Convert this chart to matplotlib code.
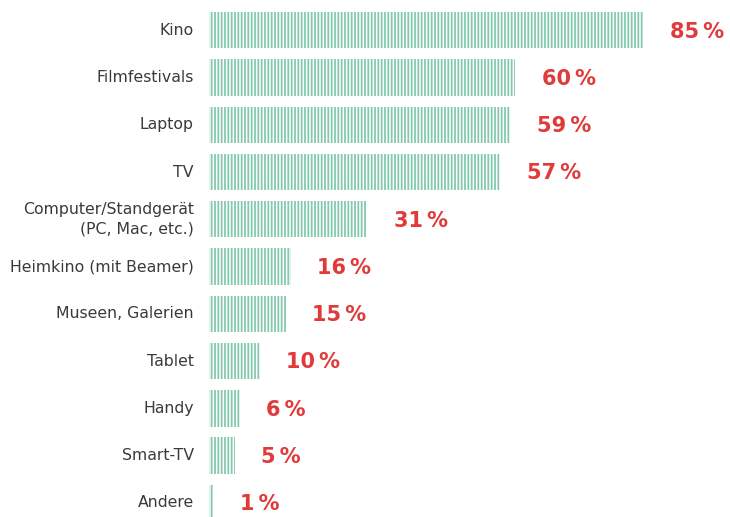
import numpy as np
import matplotlib
matplotlib.use("Agg")
import matplotlib.pyplot as plt

categories = ["Kino", "Filmfestivals", "Laptop", "TV", "Computer/Standgerät\n(PC, Mac, etc.)",
              "Heimkino (mit Beamer)", "Museen, Galerien", "Tablet", "Handy", "Smart-TV", "Andere"]
values = [85, 60, 59, 57, 31, 16, 15, 10, 6, 5, 1]

green = "#84c9ac"
red = "#e03a3a"

plt.rcParams["hatch.linewidth"] = 1.3
plt.rcParams["hatch.color"] = green

fig = plt.figure(figsize=(7.3, 5.17), dpi=100)
ax = fig.add_axes([209 / 730, 0, 1 - 209 / 730, 1])

y = np.arange(len(categories))
ax.barh(y, values, height=0.77, color="white", edgecolor=green, linewidth=0, hatch="|||||")

ax.set_xlim(0, 102)
ax.set_ylim(10.3, -0.64)

for i, (cat, v) in enumerate(zip(categories, values)):
    ax.annotate(cat, (0, i), xytext=(-11, 0), textcoords="offset points",
                ha="right", va="center", fontsize=11.3, color="#3a3a3a",
                family="DejaVu Sans", linespacing=1.3)
    ax.annotate(f"{v}\u2009%", (v, i), xytext=(19, -1), textcoords="offset points",
                ha="left", va="center", fontsize=15, color=red,
                fontweight="bold", family="DejaVu Sans")

ax.axis("off")
fig.savefig("out.png", dpi=100)
